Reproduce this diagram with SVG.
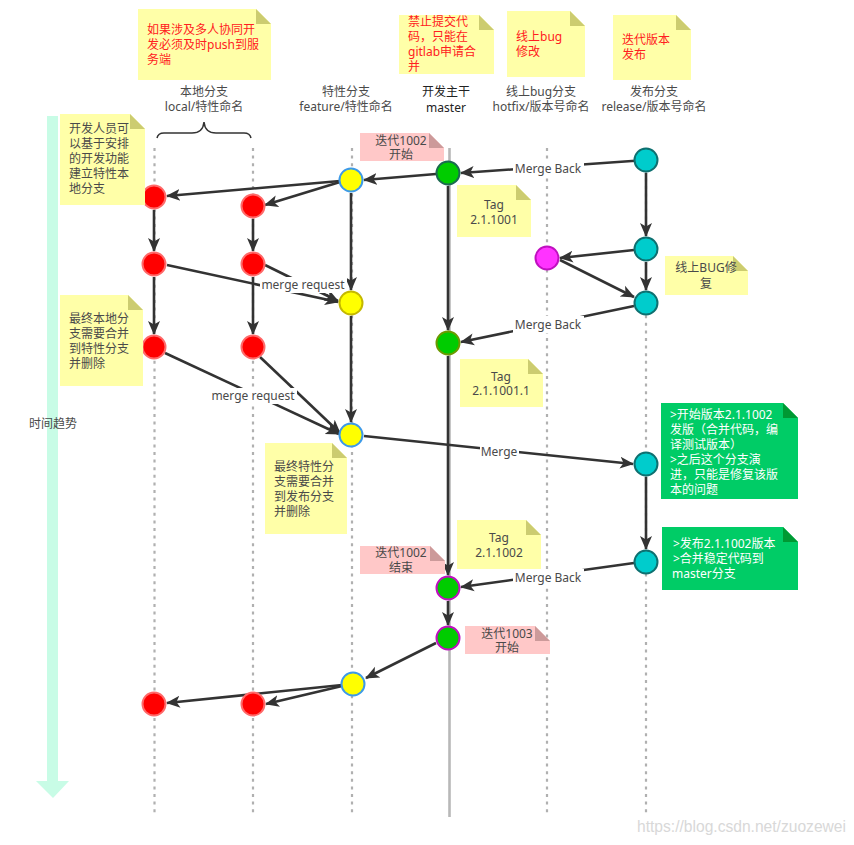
<svg xmlns="http://www.w3.org/2000/svg" width="854" height="845" viewBox="0 0 854 845">
<style>
text{font-family:"Noto Sans","Noto Sans CJK SC",sans-serif;font-size:12px;fill:#4a4a4a}
.m{text-anchor:middle}
.red{fill:#ff2020}
.wh{fill:#fff}
.lane{stroke:#b0b0b0;stroke-width:2.200;stroke-dasharray:3 4.600;fill:none}
.c{stroke:#333;stroke-width:2.600;fill:none;marker-end:url(#a)}
.y{fill:#ffffa8}.yf{fill:#cccc70}
.p{fill:#ffc8c8}.pf{fill:#cc9a9a}
.g{fill:#00cc66}.gf{fill:#009933}
.lb{fill:#fff}
.nr{fill:#f00;stroke:#ff6a6a;stroke-width:2}
.ny{fill:#ff0;stroke:#3d9ae8;stroke-width:2}
.no{fill:#ff0;stroke:#c4b800;stroke-width:2}
.ng{fill:#0c0;stroke:#1c6a50;stroke-width:2}
.nl{fill:#0c0;stroke:#6b9a00;stroke-width:2}
.nm{fill:#0c0;stroke:#c010c0;stroke-width:2}
.nc{fill:#0cc;stroke:#0e7070;stroke-width:2}
.nk{fill:#f3f;stroke:#c010c0;stroke-width:2}
</style>
<defs>
<marker id="a" markerUnits="userSpaceOnUse" markerWidth="16" markerHeight="14" refX="13" refY="7" orient="auto"><path d="M0 1 L14 7 L0 13 L3.500 7 Z" fill="#333"/></marker>
</defs>
<rect width="854" height="845" fill="#fff"/>

<g id="time-arrow">
<path d="M47 116H58V781H69L53 798L36 781H47Z" fill="#c8fce6"/>
<text class="m" x="53" y="428">时间趋势</text>
</g>

<g id="lanes">
<path class="lane" d="M154.500 148V813"/>
<path class="lane" d="M253 148V813"/>
<path class="lane" d="M352 148V813"/>
<path class="lane" d="M547 148V813"/>
<path class="lane" d="M646 148V813"/>
<path d="M449.500 148V817" stroke="#b8b8b8" stroke-width="2.600" fill="none"/>
</g>

<g id="headers">
<text class="m" x="204" y="96">本地分支</text><text class="m" x="204" y="111">local/特性命名</text>
<text class="m" x="346" y="96">特性分支</text><text class="m" x="346" y="111">feature/特性命名</text>
<text class="m" x="446" y="96" style="fill:#222">开发主干</text><text class="m" x="446" y="112" style="fill:#222">master</text>
<text class="m" x="541" y="96">线上bug分支</text><text class="m" x="541" y="111">hotfix/版本号命名</text>
<text class="m" x="654" y="96">发布分支</text><text class="m" x="654" y="111">release/版本号命名</text>
</g>

<g id="brace"><path d="M157 138Q158 133 164 133H192Q203 133 204 122Q205 133 216 133H244Q250 133 251 138" fill="none" stroke="#333" stroke-width="1.500"/></g>

<g id="connectors">
<path class="c" d="M646 160L461 173"/>
<path class="c" d="M448 173L364 180"/>
<path class="c" d="M340 181L167 196"/>
<path class="c" d="M340 182L265 205"/>
<path class="c" d="M154 210V251"/>
<path class="c" d="M253 219V251"/>
<path class="c" d="M154 277V334"/>
<path class="c" d="M253 277V334"/>
<path class="c" d="M167 265L338 302"/>
<path class="c" d="M265 265L338 301"/>
<path class="c" d="M351 193V290"/>
<path class="c" d="M351 316V422"/>
<path class="c" d="M165 353L339 434"/>
<path class="c" d="M260 357L340 433"/>
<path class="c" d="M364 436L633 464"/>
<path class="c" d="M646 173V236"/>
<path class="c" d="M646 262V290"/>
<path class="c" d="M634 250L560 258"/>
<path class="c" d="M560 260L634 297"/>
<path class="c" d="M646 477V549"/>
<path class="c" d="M634 306L461 342"/>
<path class="c" d="M634 563L461 587"/>
<path class="c" d="M448 186V330"/>
<path class="c" d="M448 356V575"/>
<path class="c" d="M448 601V625"/>
<path class="c" d="M436 643L366 678"/>
<path class="c" d="M342 685L167 703"/>
<path class="c" d="M342 686L266 704"/>
</g>

<g id="connector-labels">
<rect class="lb" x="513" y="160" width="71" height="17"/><text class="m" x="548" y="173">Merge Back</text>
<rect class="lb" x="260" y="277" width="87" height="16"/><text class="m" x="303" y="289">merge request</text>
<rect class="lb" x="210" y="388" width="87" height="16"/><text class="m" x="253" y="400">merge request</text>
<rect class="lb" x="513" y="316" width="71" height="17"/><text class="m" x="548" y="329">Merge Back</text>
<rect class="lb" x="480" y="443" width="39" height="17"/><text class="m" x="499" y="456">Merge</text>
<rect class="lb" x="513" y="569" width="71" height="17"/><text class="m" x="548" y="582">Merge Back</text>
</g>

<g id="n-local1-1"><circle class="nr" cx="154" cy="197" r="11.500"/></g>
<g id="n-local1-3"><circle class="nr" cx="154" cy="347" r="11.500"/></g>

<g id="note-push"><path class="y" d="M138 9H256L271 24V80H138Z"/><path class="yf" d="M256 9L271 24H256Z"/>
<text class="red" x="147" y="34">如果涉及多人协同开</text><text class="red" x="147" y="49">发必须及时push到服</text><text class="red" x="147" y="64">务端</text></g>
<g id="note-master"><path class="y" d="M399 15H479L494 30V74H399Z"/><path class="yf" d="M479 15L494 30H479Z"/>
<text class="red" x="408" y="26">禁止提交代</text><text class="red" x="408" y="41">码，只能在</text><text class="red" x="408" y="56">gitlab申请合</text><text class="red" x="408" y="71">并</text></g>
<g id="note-bug"><path class="y" d="M507 11H570L585 26V77H507Z"/><path class="yf" d="M570 11L585 26H570Z"/>
<text class="red" x="516" y="41">线上bug</text><text class="red" x="516" y="56">修改</text></g>
<g id="note-release"><path class="y" d="M613 15H676L691 30V80H613Z"/><path class="yf" d="M676 15L691 30H676Z"/>
<text class="red" x="622" y="44">迭代版本</text><text class="red" x="622" y="59">发布</text></g>
<g id="note-dev"><path class="y" d="M60 114H130L145 129V205H60Z"/><path class="yf" d="M130 114L145 129H130Z"/>
<text x="69" y="133">开发人员可</text><text x="69" y="148">以基于安排</text><text x="69" y="163">的开发功能</text><text x="69" y="178">建立特性本</text><text x="69" y="193">地分支</text></g>
<g id="note-local-end"><path class="y" d="M60 295H128L143 310V386H60Z"/><path class="yf" d="M128 295L143 310H128Z"/>
<text x="69" y="323">最终本地分</text><text x="69" y="338">支需要合并</text><text x="69" y="353">到特性分支</text><text x="69" y="368">并删除</text></g>
<g id="note-feature-end"><path class="y" d="M265 443H332L347 458V534H265Z"/><path class="yf" d="M332 443L347 458H332Z"/>
<text x="274" y="471">最终特性分</text><text x="274" y="486">支需要合并</text><text x="274" y="501">到发布分支</text><text x="274" y="516">并删除</text></g>
<g id="note-tag1"><path class="y" d="M457 185H516L531 200V237H457Z"/><path class="yf" d="M516 185L531 200H516Z"/>
<text class="m" x="494" y="209">Tag</text><text class="m" x="494" y="224">2.1.1001</text></g>
<g id="note-hotfix"><path class="y" d="M665 256H733L748 271V295H665Z"/><path class="yf" d="M733 256L748 271H733Z"/>
<text class="m" x="706" y="272">线上BUG修</text><text class="m" x="706" y="288">复</text></g>
<g id="note-tag2"><path class="y" d="M460 359H528L543 374V407H460Z"/><path class="yf" d="M528 359L543 374H528Z"/>
<text class="m" x="501" y="381">Tag</text><text class="m" x="501" y="395">2.1.1001.1</text></g>
<g id="note-tag3"><path class="y" d="M457 520H526L541 535V569H457Z"/><path class="yf" d="M526 520L541 535H526Z"/>
<text class="m" x="499" y="542">Tag</text><text class="m" x="499" y="557">2.1.1002</text></g>
<g id="note-start-1002"><path class="p" d="M360 133H429L444 148V161H360Z"/><path class="pf" d="M429 133L444 148H429Z"/>
<text class="m" x="401" y="145">迭代1002</text><text class="m" x="401" y="159">开始</text></g>
<g id="note-end-1002"><path class="p" d="M360 546H430L445 561V574H360Z"/><path class="pf" d="M430 546L445 561H430Z"/>
<text class="m" x="401" y="557">迭代1002</text><text class="m" x="401" y="572">结束</text></g>
<g id="note-start-1003"><path class="p" d="M465 626H535L550 641V654H465Z"/><path class="pf" d="M535 626L550 641H535Z"/>
<text class="m" x="507" y="638">迭代1003</text><text class="m" x="507" y="652">开始</text></g>
<g id="note-green1"><path class="g" d="M661 403H783L798 418V499H661Z"/><path class="gf" d="M783 403L798 418H783Z"/>
<text class="wh" x="670" y="419">&gt;开始版本2.1.1002</text><text class="wh" x="670" y="434">发版（合并代码，编</text><text class="wh" x="670" y="449">译测试版本）</text><text class="wh" x="670" y="464">&gt;之后这个分支演</text><text class="wh" x="670" y="479">进，只能是修复该版</text><text class="wh" x="670" y="494">本的问题</text></g>
<g id="note-green2"><path class="g" d="M662 527H783L798 542V590H662Z"/><path class="gf" d="M783 527L798 542H783Z"/>
<text class="wh" x="673" y="548">&gt;发布2.1.1002版本</text><text class="wh" x="673" y="563">&gt;合并稳定代码到</text><text class="wh" x="672" y="578">master分支</text></g>

<g id="n-local2-1"><circle class="nr" cx="253" cy="206" r="11.500"/></g>
<g id="n-local1-2"><circle class="nr" cx="154" cy="264" r="11.500"/></g>
<g id="n-local2-2"><circle class="nr" cx="253" cy="264" r="11.500"/></g>
<g id="n-local2-3"><circle class="nr" cx="253" cy="347" r="11.500"/></g>
<g id="n-local1-4"><circle class="nr" cx="154" cy="704" r="11.500"/></g>
<g id="n-local2-4"><circle class="nr" cx="253" cy="704" r="11.500"/></g>
<g id="n-feature-1"><circle class="ny" cx="351" cy="180" r="11.500"/></g>
<g id="n-feature-2"><circle class="no" cx="351" cy="303" r="11.500"/></g>
<g id="n-feature-3"><circle class="ny" cx="351" cy="435" r="11.500"/></g>
<g id="n-feature-4"><circle class="ny" cx="353" cy="684" r="11.500"/></g>
<g id="n-master-1"><circle class="ng" cx="448" cy="173" r="11.500"/></g>
<g id="n-master-2"><circle class="nl" cx="448" cy="343" r="11.500"/></g>
<g id="n-master-3"><circle class="nm" cx="448" cy="588" r="11.500"/></g>
<g id="n-master-4"><circle class="nm" cx="448" cy="638" r="11.500"/></g>
<g id="n-hotfix"><circle class="nk" cx="547" cy="258" r="11.500"/></g>
<g id="n-release-1"><circle class="nc" cx="646" cy="160" r="11.500"/></g>
<g id="n-release-2"><circle class="nc" cx="646" cy="249" r="11.500"/></g>
<g id="n-release-3"><circle class="nc" cx="646" cy="303" r="11.500"/></g>
<g id="n-release-4"><circle class="nc" cx="646" cy="464" r="11.500"/></g>
<g id="n-release-5"><circle class="nc" cx="646" cy="562" r="11.500"/></g>

<g id="watermark"><text x="637" y="832" style="font-family:'Liberation Sans',sans-serif;font-size:16px;fill:#d8d8d8" textLength="209" lengthAdjust="spacingAndGlyphs">https://blog.csdn.net/zuozewei</text></g>
</svg>
